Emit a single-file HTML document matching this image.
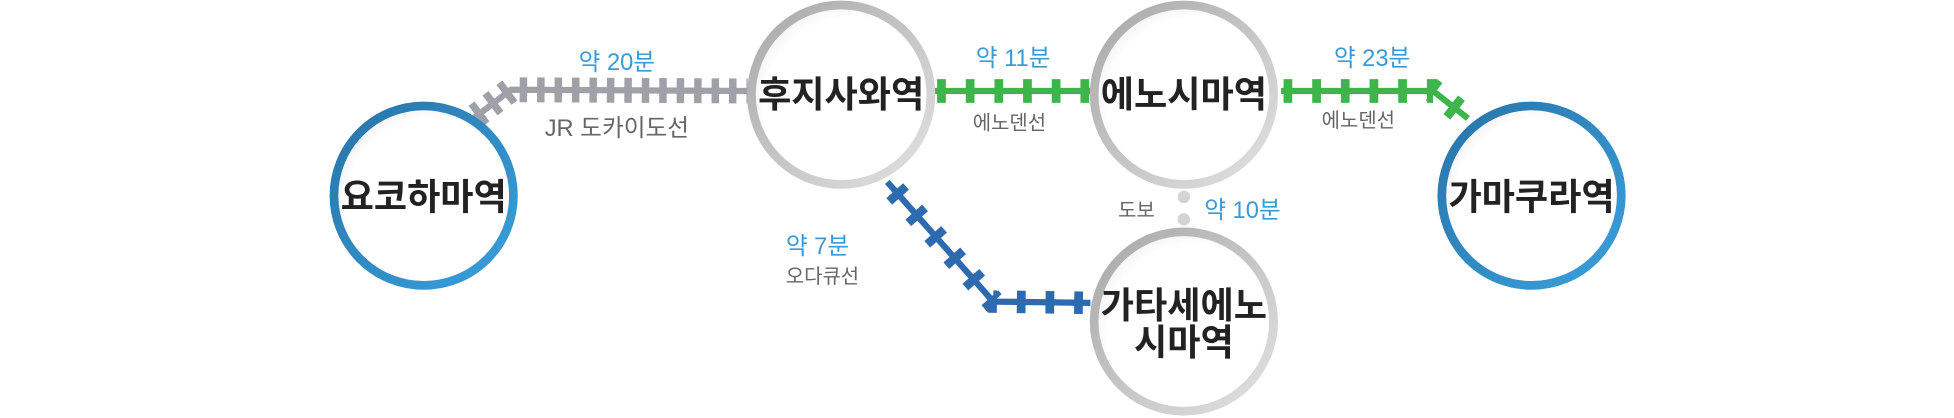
<!DOCTYPE html>
<html><head><meta charset="utf-8"><style>
html,body{margin:0;padding:0;background:#fff;}
svg{display:block;}
text{font-family:"Liberation Sans","Noto Sans CJK KR",sans-serif;}
</style></head><body>
<svg width="1954" height="418" viewBox="0 0 1568 335.4" preserveAspectRatio="none" xmlns="http://www.w3.org/2000/svg">
<defs>
<linearGradient id="gb" x1="0" y1="0" x2="1" y2="1"><stop offset="0" stop-color="#2874a8"/><stop offset="1" stop-color="#3aa0dc"/></linearGradient>
<linearGradient id="gg" x1="0" y1="0" x2="1" y2="1"><stop offset="0" stop-color="#a8a8a8"/><stop offset="1" stop-color="#e2e2e2"/></linearGradient>
<radialGradient id="fill" cx="0.55" cy="0.55" r="0.6"><stop offset="0.8" stop-color="#fff"/><stop offset="1" stop-color="#ececec"/></radialGradient>
</defs>
<path d="M380,95 L410,72 L600,73" fill="none" stroke="#a0a0a8" stroke-width="5"/>
<path d="M382,93 L410,72 L600,73" fill="none" stroke="#a0a0a8" stroke-width="20" stroke-dasharray="6 8"/>
<path d="M750,73 L875,73" fill="none" stroke="#3db54a" stroke-width="5"/>
<path d="M752,73 L875,73" fill="none" stroke="#3db54a" stroke-width="19" stroke-dasharray="7 16"/>
<path d="M1028,73 L1150,73 L1178,95" fill="none" stroke="#3db54a" stroke-width="5"/>
<path d="M1030,73 L1150,73 L1178,95" fill="none" stroke="#3db54a" stroke-width="19" stroke-dasharray="7 16"/>
<path d="M712,146 L797,242 L875,243" fill="none" stroke="#2e6aae" stroke-width="5"/>
<path d="M718,153 L797,242 L875,243" fill="none" stroke="#2e6aae" stroke-width="18" stroke-dasharray="7 16"/>
<circle cx="950" cy="158" r="5" fill="#d4d4d4"/>
<circle cx="950" cy="176" r="5" fill="#d4d4d4"/>
<circle cx="340" cy="157" r="72" fill="url(#fill)" stroke="url(#gb)" stroke-width="7"/>
<circle cx="675" cy="76" r="72" fill="url(#fill)" stroke="url(#gg)" stroke-width="7"/>
<circle cx="950" cy="76" r="72" fill="url(#fill)" stroke="url(#gg)" stroke-width="7"/>
<circle cx="950" cy="258" r="72" fill="url(#fill)" stroke="url(#gg)" stroke-width="7"/>
<circle cx="1229" cy="157" r="72" fill="url(#fill)" stroke="url(#gb)" stroke-width="7"/>
<g fill="#222" font-size="29" font-weight="bold" text-anchor="middle">
<text x="340" y="168">요코하마역</text>
<text x="675" y="86">후지사와역</text>
<text x="950" y="86">에노시마역</text>
<text x="950" y="255">가타세에노</text>
<text x="950" y="285">시마역</text>
<text x="1229" y="168">가마쿠라역</text>
</g>
<g fill="#3a9ad6" font-size="19" text-anchor="middle">
<text x="495" y="56">약 20분</text>
<text x="813" y="53">약 11분</text>
<text x="1101" y="53">약 23분</text>
<text x="997" y="175">약 10분</text>
<text x="656" y="204">약 7분</text>
</g>
<g fill="#666" text-anchor="middle">
<text x="495" y="109" font-size="19">JR 도카이도선</text>
<text x="810" y="104" font-size="16">에노덴선</text>
<text x="1090" y="102" font-size="16">에노덴선</text>
<text x="912" y="174" font-size="16">도보</text>
<text x="660" y="227" font-size="16">오다큐선</text>
</g>
</svg>
</body></html>
